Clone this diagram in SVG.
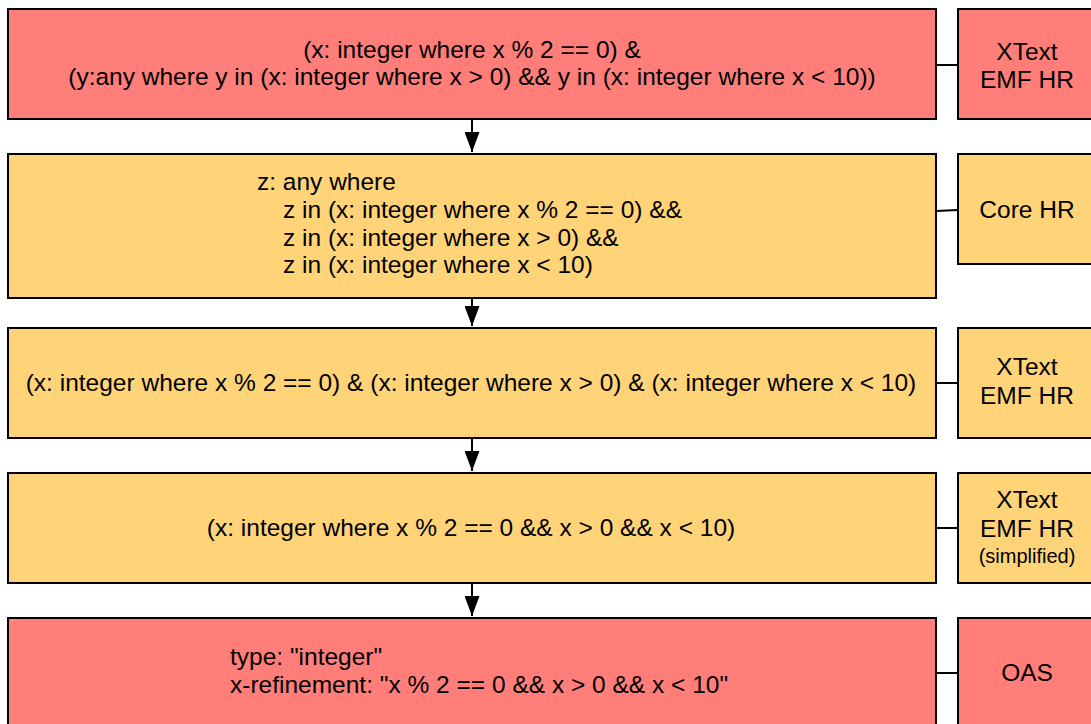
<svg xmlns="http://www.w3.org/2000/svg" width="1091" height="724" viewBox="0 0 1091 724">
<defs>
<style>
.red{fill:#FF7E79;stroke:#000;stroke-width:2}
.yel{fill:#FFD479;stroke:#000;stroke-width:2}
text{font-family:"Liberation Sans",Arial,Helvetica,sans-serif;font-size:24.5px;fill:#000}
.c{text-anchor:middle}
.sm{font-size:20px}
.conn line{stroke:#000;stroke-width:2}
</style>
<marker id="ah" markerWidth="20" markerHeight="15" refX="20" refY="7.5" orient="auto" markerUnits="userSpaceOnUse" viewBox="0 0 20 15">
<path d="M0,0 L20,7.5 L0,15 Z" fill="#000"/>
</marker>
</defs>
<g id="connectors" class="conn">
<line x1="472" y1="119" x2="472" y2="152" marker-end="url(#ah)"/>
<line x1="472" y1="298" x2="472" y2="326" marker-end="url(#ah)"/>
<line x1="472" y1="438" x2="472" y2="471" marker-end="url(#ah)"/>
<line x1="472" y1="583" x2="472" y2="616" marker-end="url(#ah)"/>
<line x1="936" y1="65" x2="958" y2="65"/>
<line x1="936" y1="211" x2="958" y2="210"/>
<line x1="936" y1="383" x2="958" y2="383"/>
<line x1="936" y1="528" x2="958" y2="528"/>
<line x1="936" y1="673" x2="958" y2="673"/>
</g>
<g id="n1">
<rect class="red" x="8" y="9" width="928" height="110"/>
<text class="c" x="472" y="58">(x: integer where x % 2 == 0) &amp;</text>
<text class="c" x="472" y="85">(y:any where y in (x: integer where x &gt; 0) &amp;&amp; y in (x: integer where x &lt; 10))</text>
</g>
<g id="n1r">
<rect class="red" x="958" y="9" width="140" height="110"/>
<text class="c" x="1027" y="60">XText</text>
<text class="c" x="1027" y="88">EMF HR</text>
</g>
<g id="n2">
<rect class="yel" x="8" y="154" width="928" height="144"/>
<text x="257" y="190">z: any where</text>
<text x="283" y="218">z in (x: integer where x % 2 == 0) &amp;&amp;</text>
<text x="283" y="246">z in (x: integer where x &gt; 0) &amp;&amp;</text>
<text x="283" y="273">z in (x: integer where x &lt; 10)</text>
</g>
<g id="n2r">
<rect class="yel" x="958" y="154" width="140" height="110"/>
<text class="c" x="1027" y="218">Core HR</text>
</g>
<g id="n3">
<rect class="yel" x="8" y="328" width="928" height="110"/>
<text class="c" x="471" y="391">(x: integer where x % 2 == 0) &amp; (x: integer where x &gt; 0) &amp; (x: integer where x &lt; 10)</text>
</g>
<g id="n3r">
<rect class="yel" x="958" y="328" width="140" height="110"/>
<text class="c" x="1027" y="375">XText</text>
<text class="c" x="1027" y="404">EMF HR</text>
</g>
<g id="n4">
<rect class="yel" x="8" y="473" width="928" height="110"/>
<text class="c" x="471" y="536">(x: integer where x % 2 == 0 &amp;&amp; x &gt; 0 &amp;&amp; x &lt; 10)</text>
</g>
<g id="n4r">
<rect class="yel" x="958" y="473" width="140" height="110"/>
<text class="c" x="1027" y="508">XText</text>
<text class="c" x="1027" y="537">EMF HR</text>
<text class="c sm" x="1027" y="563">(simplified)</text>
</g>
<g id="n5">
<rect class="red" x="8" y="618" width="928" height="110"/>
<text x="230" y="665">type: "integer"</text>
<text x="230" y="693">x-refinement: "x % 2 == 0 &amp;&amp; x &gt; 0 &amp;&amp; x &lt; 10"</text>
</g>
<g id="n5r">
<rect class="red" x="958" y="618" width="140" height="110"/>
<text class="c" x="1027" y="681">OAS</text>
</g>
</svg>
